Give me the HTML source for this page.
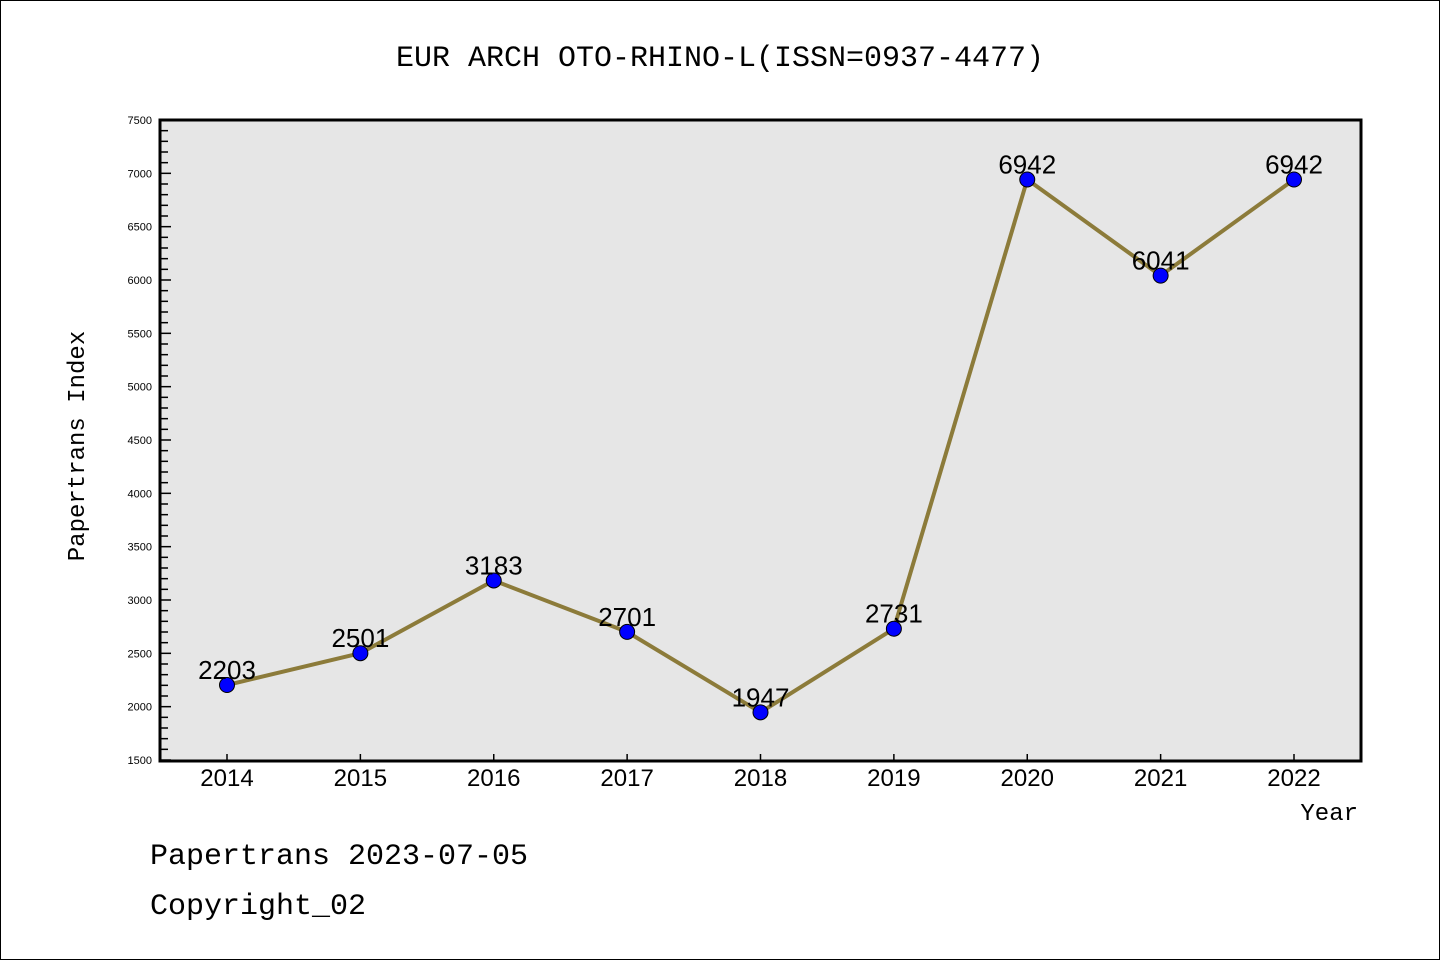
<!DOCTYPE html>
<html><head><meta charset="utf-8"><style>
body{margin:0;background:#fff;}
svg{display:block;font-family:"Liberation Mono","DejaVu Sans Mono",monospace;}
</style></head><body>
<svg id="chart" width="1440" height="960" viewBox="0 0 1440 960">
<rect x="0.5" y="0.5" width="1439" height="959" fill="#fff" stroke="#000" stroke-width="1"/>
<text x="720" y="66" font-size="30" text-anchor="middle">EUR ARCH OTO-RHINO-L(ISSN=0937-4477)</text>
<rect x="160" y="120" width="1201" height="641" fill="#e6e6e6"/>
<g id="yticks"></g>
<g id="xticks"></g>
<g id="series"></g>
<rect x="160" y="120" width="1201" height="641" fill="none" stroke="#000" stroke-width="3"/>
<text transform="translate(84,446) rotate(-90)" font-size="24" text-anchor="middle">Papertrans Index</text>
<text x="1358" y="820" font-size="24" text-anchor="end">Year</text>
<text x="150" y="864" font-size="30">Papertrans 2023-07-05</text>
<text x="150" y="914" font-size="30">Copyright_02</text>
</svg>
<script>
const years=[2014,2015,2016,2017,2018,2019,2020,2021,2022];
const values=[2203,2501,3183,2701,1947,2731,6942,6041,6942];
const yTickLabels=[1500,2000,2500,3000,3500,4000,4500,5000,5500,6000,6500,7000,7500];
const NS="http://www.w3.org/2000/svg";
const yMin=1500,yMax=7500;
const y=v=>760-(v-yMin)/(yMax-yMin)*640;
const x=i=>227+i*(1294-227)/(years.length-1);
function mk(tag,attrs,parent){const e=document.createElementNS(NS,tag);for(const k in attrs)e.setAttribute(k,attrs[k]);parent.appendChild(e);return e;}
const yg=document.getElementById('yticks'),xg=document.getElementById('xticks'),sg=document.getElementById('series');
for(let v=yMin;v<=yMax;v+=100){
  const major=v%500===0;
  const t=mk('line',{x1:160,x2:major?171:168,y1:y(v),y2:y(v),stroke:'#000','stroke-width':1.5},yg);
  
  
}
yTickLabels.forEach(v=>{
  const t=mk('text',{x:152,y:y(v)+4,'font-size':11,'text-anchor':'end','font-family':'"Liberation Sans",sans-serif'},yg);
  t.textContent=v;
  
  
});
years.forEach((yr,i)=>{
  const t=mk('line',{x1:x(i),x2:x(i),y1:760,y2:754,stroke:'#000','stroke-width':1.5},xg);
  
  
  const l=mk('text',{x:x(i),y:786,'font-size':24,'text-anchor':'middle','font-family':'"Liberation Sans",sans-serif'},xg);
  l.textContent=yr;
  
  
});
const pl=mk('polyline',{points:values.map((v,i)=>x(i)+','+y(v)).join(' '),fill:'none',stroke:'#8c7b3a','stroke-width':4,'stroke-linejoin':'round'},sg);


values.forEach((v,i)=>{
  const c=mk('circle',{cx:x(i),cy:y(v),r:7.5,fill:'#0000ff',stroke:'#000','stroke-width':1},sg);
  
  
  const t=mk('text',{x:x(i),y:y(v)-6,'font-size':26,'text-anchor':'middle','font-family':'"Liberation Sans",sans-serif'},sg);
  t.textContent=v;
  
  
});
</script>
</body></html>
